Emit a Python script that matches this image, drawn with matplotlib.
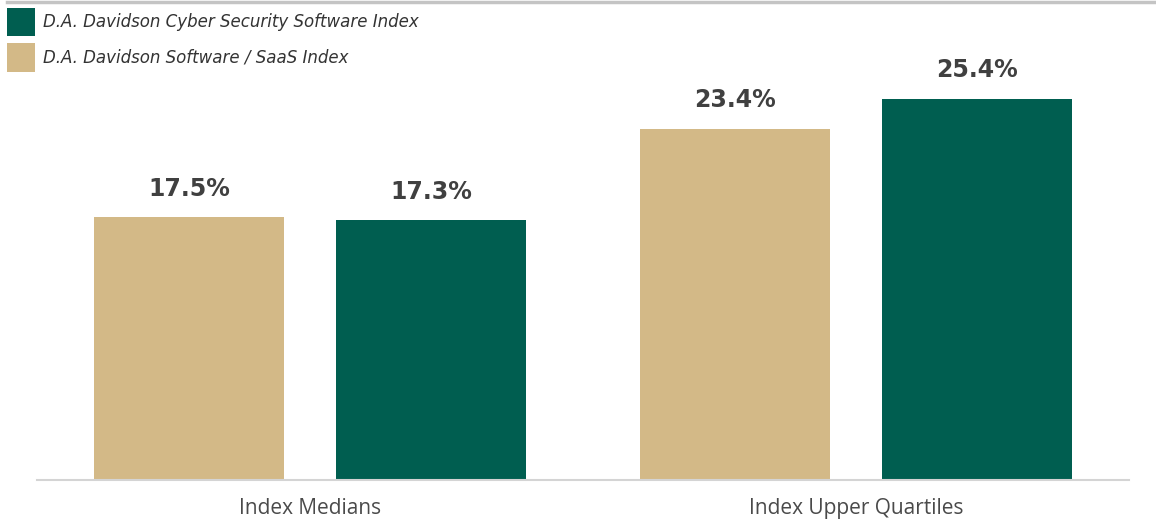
import numpy as np
import matplotlib.pyplot as plt
from matplotlib.lines import Line2D

# data
categories = ['Index Medians', 'Index Upper Quartiles']
saas_values = [17.5, 23.4]
cyber_values = [17.3, 25.4]
saas_name = 'D.A. Davidson Software / SaaS Index'
cyber_name = 'D.A. Davidson Cyber Security Software Index'

tan = '#D3B987'
green = '#005E50'
txt = '#404040'

fig = plt.figure(figsize=(11.56, 5.19), dpi=100)
# axes: x 37..1129 px, y 60..480 px
ax = fig.add_axes([37 / 1156, (519 - 480) / 519, 1092 / 1156, 420 / 519])

x = np.arange(len(categories))
w = 0.348
off = 0.2216
b1 = ax.bar(x - off, saas_values, w, color=tan, label=saas_name)
b2 = ax.bar(x + off, cyber_values, w, color=green, label=cyber_name)

for bars in (b1, b2):
    for r in bars:
        ax.annotate(f'{r.get_height():.1f}%', (r.get_x() + r.get_width() / 2, r.get_height()),
                    xytext=(0, 12), textcoords='offset points', ha='center', va='bottom',
                    fontsize=17, fontweight='bold', color=txt, family='DejaVu Sans')

ax.set_xlim(-0.5, 1.5)
ax.set_ylim(0, 28)
ax.set_xticks(x)
ax.set_xticklabels(categories, fontsize=15, color='#4a4a4a', family='Open Sans')
ax.tick_params(axis='x', length=0, pad=13)
ax.set_yticks([])
for s in ['top', 'left', 'right']:
    ax.spines[s].set_visible(False)
ax.spines['bottom'].set_color('#d4d4d4')
ax.spines['bottom'].set_linewidth(1.5)

# top rule
fig.add_artist(Line2D([7 / 1156, 1], [1 - 1.5 / 519, 1 - 1.5 / 519], color='#c4c4c4', lw=2.5))

leg = fig.legend([b2, b1], [cyber_name, saas_name], loc='upper left',
                 bbox_to_anchor=(7 / 1156, 1 - 8 / 519), frameon=False,
                 prop={'family': 'DejaVu Sans', 'style': 'oblique', 'size': 12},
                 handlelength=1.68, handleheight=2.25, labelspacing=0.42,
                 handletextpad=0.5, borderaxespad=0, borderpad=0)
for t in leg.get_texts():
    t.set_color('#333333')

fig.savefig('out.png', dpi=100)
